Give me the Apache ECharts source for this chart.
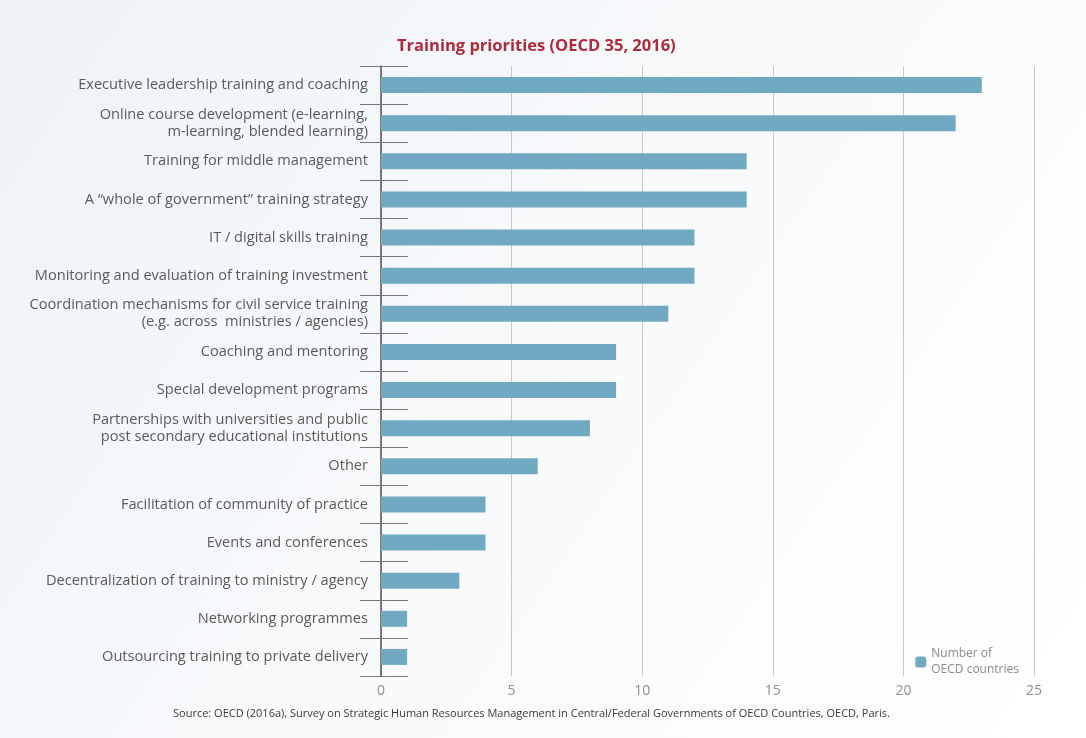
<!DOCTYPE html>
<html>
<head>
<meta charset="utf-8">
<script src="https://cdn.jsdelivr.net/npm/echarts@6/dist/echarts.min.js"></script>
<style>
  html, body { margin: 0; padding: 0; }
  #main { width: 1086px; height: 738px; }
</style>
</head>
<body>
<div id="main"></div>
<script>
// categories from top to bottom as in the picture
const categories = [
  "Executive leadership training and coaching",
  "Online course development (e-learning,\nm-learning, blended learning)",
  "Training for middle management",
  "A \u201cwhole of government\u201d training strategy",
  "IT / digital skills training",
  "Monitoring and evaluation of training investment",
  "Coordination mechanisms for civil service training\n(e.g. across  ministries / agencies)",
  "Coaching and mentoring",
  "Special development programs",
  "Partnerships with universities and public\npost secondary educational institutions",
  "Other",
  "Facilitation of community of practice",
  "Events and conferences",
  "Decentralization of training to ministry / agency",
  "Networking programmes",
  "Outsourcing training to private delivery"
];
const countries = [23, 22, 14, 14, 12, 12, 11, 9, 9, 8, 6, 4, 4, 3, 1, 1];
const xTicks = [0, 5, 10, 15, 20, 25];

const chart = echarts.init(document.getElementById("main"));

const option = {
  backgroundColor: {
    type: "linear", x: 0, y: 0, x2: 1, y2: 1,
    colorStops: [
      { offset: 0, color: "#edf2f7" },
      { offset: 0.45, color: "#f7f9fb" },
      { offset: 1, color: "#ffffff" }
    ]
  },
  textStyle: { fontFamily: "Open Sans" },
  title: {
    text: "Training priorities (OECD 35, 2016)",
    left: 392,
    top: 33,
    textStyle: { color: "#b02a3c", fontSize: 16.5, fontWeight: "bold", fontFamily: "Open Sans" }
  },
  legend: {
    data: ["Number of\nOECD countries"],
    right: 62,
    top: 641,
    orient: "vertical",
    itemWidth: 11,
    itemHeight: 11,
    itemGap: 4,
    textStyle: { color: "#8a8a8a", fontSize: 12, lineHeight: 16 }
  },
  graphic: [{
    type: "text",
    left: 173,
    top: 708,
    style: {
      text: "Source: OECD (2016a), Survey on Strategic Human Resources Management in Central/Federal Governments of OECD Countries, OECD, Paris.",
      fill: "#3a3a3a",
      font: "11px 'Open Sans'"
    }
  }],
  grid: { left: 381, right: 52, top: 66, bottom: 62 },
  xAxis: {
    type: "value",
    min: 0,
    max: 25,
    interval: 5,
    axisLine: { show: false },
    axisTick: { show: false },
    axisLabel: { color: "#8f8f8f", fontSize: 14, margin: 8 },
    splitLine: { show: true, lineStyle: { color: "#c8c8c8", width: 1 } }
  },
  yAxis: [
    {
      type: "category",
      data: categories,
      inverse: true,
      axisLine: { show: true, lineStyle: { color: "#555", width: 1.5 } },
      axisTick: { show: true, length: 21, lineStyle: { color: "#777" } },
      axisLabel: { color: "#5a5a5a", fontSize: 14.6, lineHeight: 17, margin: 13 }
    },
    {
      type: "category",
      data: categories,
      inverse: true,
      position: "left",
      axisLine: { show: false },
      axisTick: { show: true, inside: true, length: 27, lineStyle: { color: "#777" } },
      axisLabel: { show: false }
    }
  ],
  series: [{
    name: "Number of\nOECD countries",
    type: "bar",
    data: countries,
    barWidth: 16,
    itemStyle: { color: "#72a9c2" }
  }]
};

chart.setOption(option);
</script>
</body>
</html>
